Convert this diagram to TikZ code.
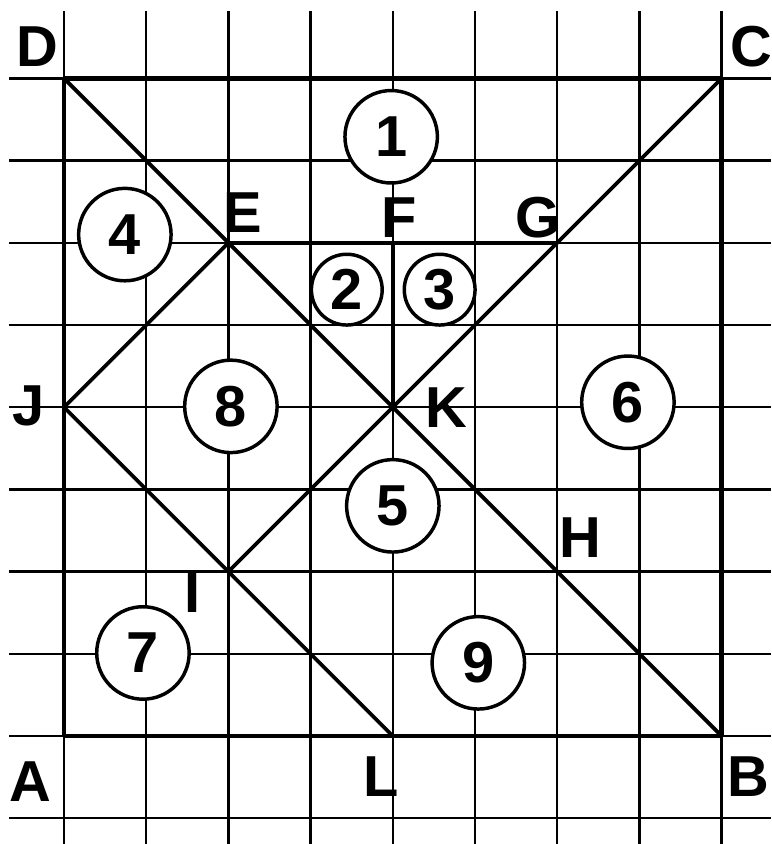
\documentclass[tikz,border=0pt]{standalone}
\usepackage{fontspec}
\setmainfont{Liberation Sans}
\usetikzlibrary{positioning}
\usetikzlibrary{calc}
\tikzstyle{gridline}=[line width=0.85pt]
\tikzstyle{border}=[line width=1.5pt]
\tikzstyle{cut}=[line width=1.3pt]
\tikzstyle{corner}=[coordinate]
\tikzstyle{piece}=[circle,fill=white,draw,line width=1.2pt,minimum size=32pt,inner sep=0pt,font=\fontsize{20}{24}\selectfont\bfseries]
\tikzstyle{smallpiece}=[circle,fill=white,draw,line width=1.2pt,minimum size=24.5pt,inner sep=0pt,font=\fontsize{20}{24}\selectfont\bfseries]
\tikzstyle{letter}=[inner sep=0pt,font=\fontsize{20}{24}\selectfont\bfseries]

\begin{document}
\begin{tikzpicture}
\useasboundingbox (-0.779,-1.314) rectangle (8.601,8.954);

%grid
    \foreach \x in {0,...,8}
        \draw[gridline] (\x,-1.314) -- (\x,8.82);
    \foreach \y in {-1,...,8}
        \draw[gridline] (-0.669,\y) -- (8.601,\y);

%points
    \foreach \pos/\name in {{(0,0)/A}, {(8,0)/B}, {(8,8)/C}, {(0,8)/D}, {(2,6)/E}, {(4,6)/F}, {(6,6)/G},
                            {(6,2)/H}, {(2,2)/I}, {(0,4)/J}, {(4,4)/K}, {(4,0)/L}}
        \node[corner] (\name) at \pos {};

%square
  \foreach \source/ \dest in {A/L, L/B, B/C, C/D, D/J, J/A}
          \draw[border] (\source) -- (\dest);

%cuts
  \foreach \source/ \dest in {D/E, E/K, K/H, H/B, C/G, G/K, K/I, E/F, F/G, F/K, J/E, J/I, I/L, I/H}
          \draw[cut] (\source) -- (\dest);

%labels
    \foreach \pos/\name/\label in {{(-0.41,-0.56)/lA/A}, {(8.32,-0.50)/lB/B}, {(8.36,8.39)/lC/C}, {(-0.32,8.39)/lD/D},
                                   {(2.18,6.37)/lE/E}, {(4.08,6.31)/lF/F}, {(5.77,6.31)/lG/G}, {(6.28,2.41)/lH/H},
                                   {(1.56,1.74)/lI/I}, {(-0.43,4.01)/lJ/J}, {(4.65,3.99)/lK/K}, {(3.86,-0.49)/lL/L}}
        \node[letter] (\name) at \pos {\label};

%pieces
    \foreach \pos/\name/\label in {{(3.98,7.29)/p1/1}, {(0.74,6.10)/p4/4}, {(6.86,4.06)/p6/6}, {(4.00,2.80)/p5/5},
                                   {(0.96,1.01)/p7/7}, {(2.03,4.01)/p8/8}, {(5.04,0.89)/p9/9}}
        \node[piece] (\name) at \pos {\label};
    \foreach \pos/\name/\label in {{(3.44,5.43)/p2/2}, {(4.57,5.43)/p3/3}}
        \node[smallpiece] (\name) at \pos {\label};

\end{tikzpicture}
\end{document}
